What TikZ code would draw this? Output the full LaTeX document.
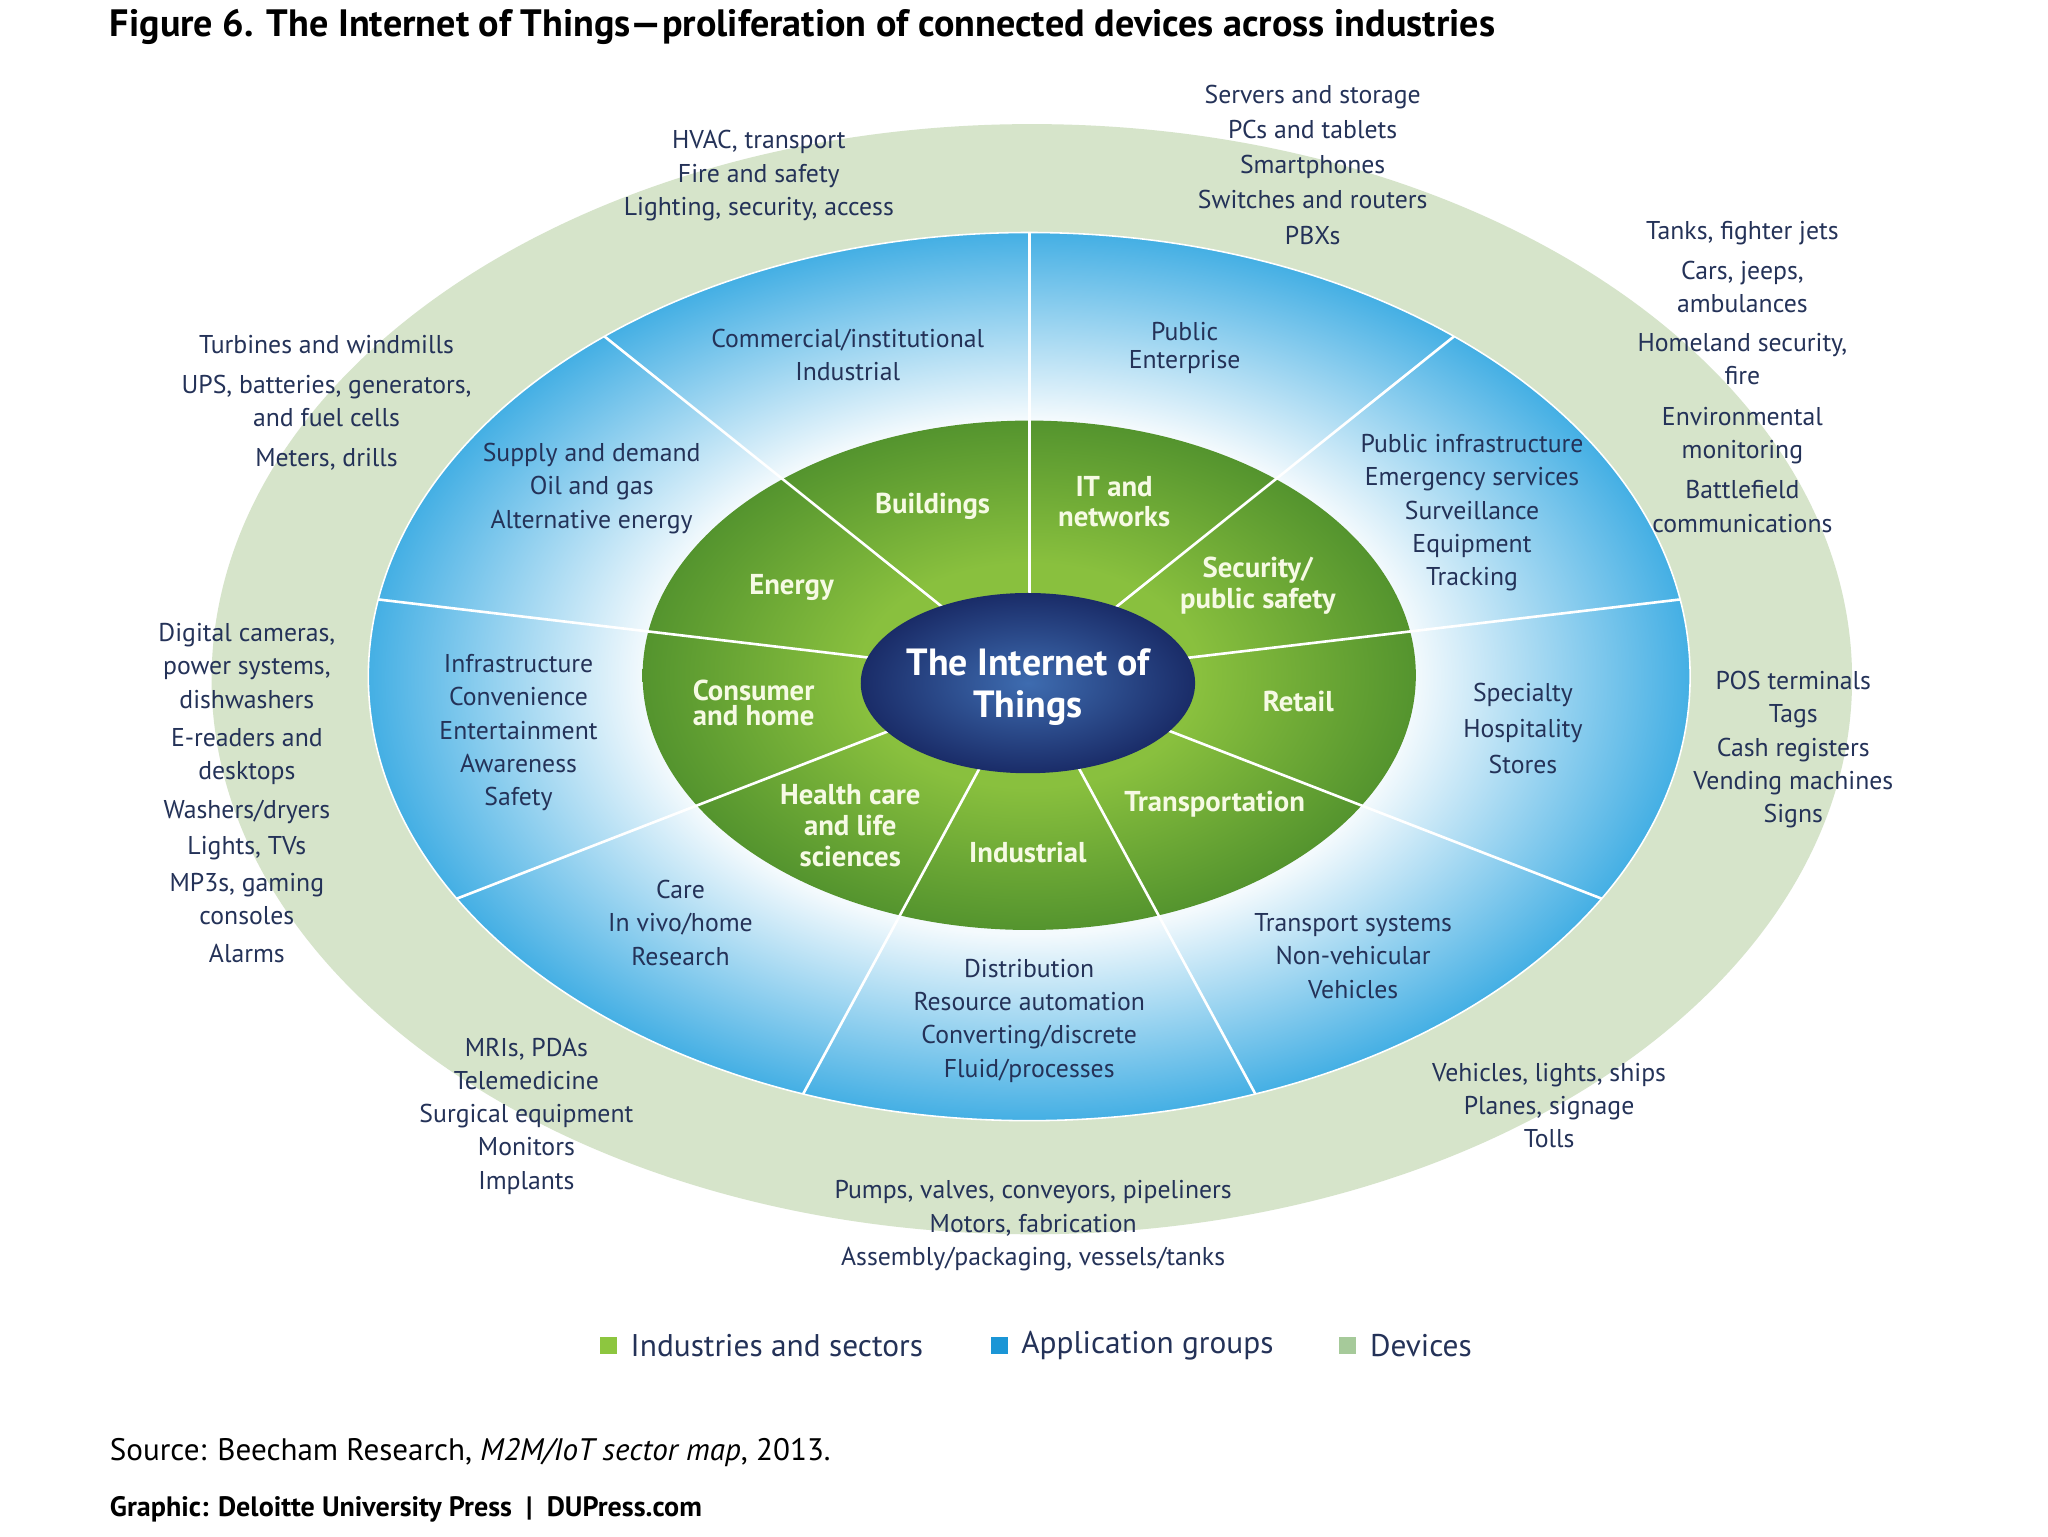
\documentclass[tikz,border=0pt]{standalone}
\usepackage{fontspec}
\setmainfont{PT Sans}
\usetikzlibrary{calc,positioning}

\definecolor{inkblue}{RGB}{36,50,88}
\definecolor{sage}{RGB}{214,228,202}
\definecolor{grnlight}{RGB}{137,192,62}
\definecolor{grndark}{RGB}{84,148,46}
\definecolor{ringblue}{RGB}{68,175,228}
\definecolor{ringwhite}{RGB}{244,250,253}
\definecolor{navyin}{RGB}{62,108,176}
\definecolor{navyout}{RGB}{26,44,104}
\definecolor{keygreen}{RGB}{141,198,63}
\definecolor{keyblue}{RGB}{27,150,214}
\definecolor{keysage}{RGB}{166,202,154}
\definecolor{sectortext}{RGB}{246,250,228}

\pgfdeclareradialshading{bluering}{\pgfpoint{0bp}{0bp}}{color(0bp)=(ringwhite); color(14.5bp)=(ringwhite); color(25bp)=(ringblue); color(50bp)=(ringblue)}
\pgfdeclareradialshading{greenring}{\pgfpoint{0bp}{0bp}}{color(0bp)=(grnlight); color(11bp)=(grnlight); color(25bp)=(grndark); color(50bp)=(grndark)}
\pgfdeclareradialshading{hub}{\pgfpoint{0bp}{0bp}}{color(0bp)=(navyin); color(25bp)=(navyout); color(50bp)=(navyout)}

\tikzset{
  device/.style={text=inkblue, align=center, inner sep=0pt, font=\fontsize{19.7}{25.5}\selectfont},
  appgroup/.style={device},
  sector/.style={text=sectortext, align=center, inner sep=0pt, font=\bfseries\fontsize{22}{23.5}\selectfont},
  hubtext/.style={text=white, align=center, inner sep=0pt, font=\bfseries\fontsize{29}{32}\selectfont},
  spoke/.style={white, line width=2pt},
  keybox/.style={minimum size=13pt, inner sep=0pt},
  keytext/.style={text=inkblue, inner sep=0pt, font=\fontsize{24}{28}\selectfont}
}

\begin{document}
\begin{tikzpicture}[x=1pt,y=-1pt]
\useasboundingbox (0,0) rectangle (1568,1176);
\fill[white] (0,0) rectangle (1568,1176);

\node[anchor=base west, inner sep=0pt, font=\bfseries\fontsize{29.2}{32}\selectfont] (title) at (84,28)
  {Figure 6. The Internet of Things—proliferation of connected devices across industries};

% rings
\coordinate (ctr) at (788,518);
\fill[sage] (790,520) ellipse [x radius=628pt, y radius=425pt];
\shade[shading=bluering] (ctr) ellipse [x radius=506pt, y radius=340pt];
\draw[white, line width=1.2pt] (ctr) ellipse [x radius=506pt, y radius=340pt];
\shade[shading=greenring] (788,517) ellipse [x radius=296pt, y radius=195pt];
\foreach \ang [count=\i] in {90,50,...,-230}
  \coordinate (rim\i) at ($(ctr)+(\ang:506pt and 340pt)$);
\foreach \i in {1,...,9}
  \draw[spoke] (ctr) -- (rim\i);
\shade[shading=hub] (787,523) ellipse [x radius=128pt, y radius=69pt];

% industries and sectors
\node[hubtext] (hub) at (787,526) {The Internet of\\Things};
\node[sector] (buildings) at (714,388) {Buildings};
\node[sector] (itnet) at (853,384) {IT and\\networks};
\node[sector] (security) at (963,448.5) {Security/\\public safety};
\node[sector] (retail) at (994,537) {Retail};
\node[sector] (transport) at (930,616) {Transportation};
\node[sector] (industrial) at (787,653) {Industrial};
\node[sector] (health) at (651,632) {Health care\\and life\\sciences};
\node[sector] (consumer) at (577,538) {Consumer\\[-4pt]and home};
\node[sector] (energy) at (606,450) {Energy};

% application groups
\node[appgroup] (apBuildings) at (649,272) {Commercial/institutional\\Industrial};
\node[appgroup] (apIT) at (907,266.5) {Public\\[-4pt]Enterprise};
\node[appgroup] (apSecurity) at (1127,392.5) {Public infrastructure\\Emergency services\\Surveillance\\Equipment\\Tracking};
\node[appgroup] (apRetail) at (1166,557.5) {Specialty\\[2pt]Hospitality\\[2pt]Stores};
\node[appgroup] (apTransport) at (1036,732) {Transport systems\\Non-vehicular\\Vehicles};
\node[appgroup] (apIndustrial) at (788,781.5) {Distribution\\Resource automation\\Converting/discrete\\Fluid/processes};
\node[appgroup] (apHealth) at (521,706.5) {Care\\In vivo/home\\Research};
\node[appgroup] (apConsumer) at (397,561) {Infrastructure\\Convenience\\Entertainment\\Awareness\\Safety};
\node[appgroup] (apEnergy) at (453,374) {Supply and demand\\Oil and gas\\Alternative energy};

% devices
\node[device] (dvBuildings) at (581,134.5) {HVAC, transport\\Fire and safety\\Lighting, security, access};
\node[device] (dvIT) at (1005,126) {Servers and storage\\[1.5pt]PCs and tablets\\[1.5pt]Smartphones\\[1.5pt]Switches and routers\\[1.5pt]PBXs};
\node[device] (dvSecurity) at (1334,288.5) {Tanks, fighter jets\\[5pt]Cars, jeeps,\\ambulances\\[4pt]Homeland security,\\fire\\[6pt]Environmental\\monitoring\\[5pt]Battlefield\\communications};
\node[device] (dvRetail) at (1373,574) {POS terminals\\Tags\\Cash registers\\Vending machines\\Signs};
\node[device] (dvTransport) at (1186,846.5) {Vehicles, lights, ships\\Planes, signage\\Tolls};
\node[device] (dvIndustrial) at (791,938.5) {Pumps, valves, conveyors, pipeliners\\Motors, fabrication\\Assembly/packaging, vessels/tanks};
\node[device] (dvHealth) at (403,854.5) {MRIs, PDAs\\Telemedicine\\Surgical equipment\\Monitors\\Implants};
\node[device] (dvConsumer) at (189,607) {Digital cameras,\\power systems,\\dishwashers\\[4pt]E-readers and\\desktops\\[4pt]Washers/dryers\\[2pt]Lights, TVs\\[3pt]MP3s, gaming\\consoles\\[3pt]Alarms};
\node[device] (dvEnergy) at (250,308.5) {Turbines and windmills\\[5pt]UPS, batteries, generators,\\and fuel cells\\[5pt]Meters, drills};

% legend
\node[keybox, fill=keygreen] (keyInd) at (466,1030) {};
\node[keytext, right=10pt of keyInd] (keyIndText) {Industries and sectors};
\node[keybox, fill=keyblue] (keyApp) at (765,1030) {};
\node[keytext, right=10pt of keyApp] (keyAppText) {Application groups};
\node[keybox, fill=keysage] (keyDev) at (1032,1030) {};
\node[keytext, right=10pt of keyDev] (keyDevText) {Devices};

\node[anchor=base west, inner sep=0pt, font=\fontsize{23.8}{26}\selectfont] (source) at (84,1118)
  {Source: Beecham Research, \textit{M2M/IoT sector map}, 2013.};
\node[anchor=base west, inner sep=0pt, font=\bfseries\fontsize{21.5}{24}\selectfont] (credit) at (84,1161)
  {Graphic: Deloitte University Press \ | \ DUPress.com};
\end{tikzpicture}
\end{document}
